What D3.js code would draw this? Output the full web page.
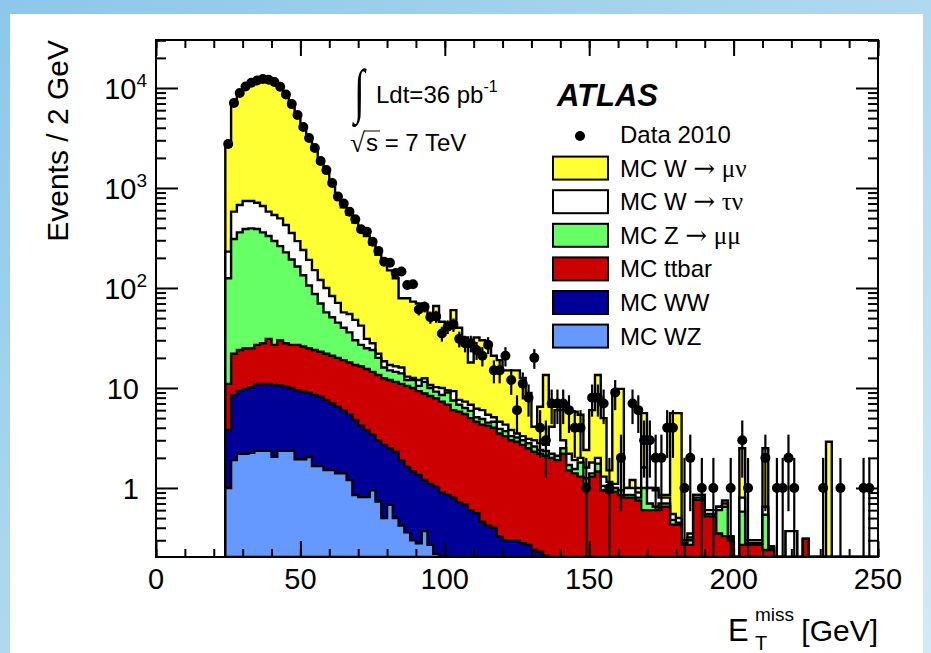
<!DOCTYPE html>
<html>
<head>
<meta charset="utf-8">
<script src="https://cdn.jsdelivr.net/npm/d3@7"></script>
<style>
  body { margin: 0; }
  text { font-family: "Liberation Sans", Arial, Helvetica, sans-serif; fill: #000; }
</style>
</head>
<body>
<svg id="chart" width="931" height="653"></svg>
<script>
// histogram binning (GeV)
var binStart = 24;
var binWidth = 2;

// data 2010, events per 2 GeV bin, starting at 24 GeV
var dataCounts = [
  2750, 7080, 8900, 10350, 11300, 11900, 12300, 12100, 11500, 10300,
  8600, 6900, 5370, 4070, 3160, 2510, 1860, 1510, 1120, 820,
  700, 580, 486, 386, 366, 290, 235, 183, 179, 141,
  146, 107, 109, 61, 65, 51, 52, 35, 41, 43,
  31, 28, 28, 24, 21, 27, 15, 15, 21, 12,
  6, 11, 8, 20, 4, 3, 7, 7, 7, 6,
  4, 4, 1, 8, 8, 7, 1, 9, 2, 0,
  7, 6, 3, 3, 2, 2, 4, 4, 0, 1,
  2, 0, 1, 0, 1, 0, 0, 1, 0, 3,
  1, 0, 0, 2, 0, 1, 1, 2, 1, 0,
  0, 0, 0, 1, 0, 0, 1, 0, 0, 0,
  1, 1, 0
];

// stacked MC, cumulative tops per bin (top of each coloured layer)
var stackWmunu = [
  2700, 6900, 8700, 10100, 11000, 11600, 12000, 11900, 11300, 10100,
  8400, 6700, 5200, 3950, 3050, 2420, 1800, 1450, 1080, 800,
  640, 540, 450, 370, 330, 270, 215, 180, 150, 125,
  79, 79, 73, 70, 66, 50, 66, 46, 45, 60,
  40, 32, 18, 32, 30, 28, 21, 19, 15, 15,
  15, 12.6, 8.9, 4.1, 6.5, 13.5, 6.5, 6.5, 6, 6,
  5.8, 5.4, 2.4, 6, 13.5, 5, 1.5, 9.5, 9.8, 1.0,
  1.2, 1.0, 5.6, 1.0, 1.0, 0.85, 0.85, 5.6, 5.6, 0.3,
  0.35, 0.85, 0.85, 0.6, 0.6, 0.65, 0.75, 0.33, 0, 2.5,
  0.3, 0.3, 0.3, 2.5, 0.26, 0, 0, 0.37, 0.37, 0,
  0.31, 0, 0, 0, 2.9, 0, 0, 0, 0, 0,
  0, 0, 0
];
var stackWtaunu = [
  231, 580, 676, 741, 741, 713, 660, 580, 537, 497,
  427, 355, 294, 240, 191, 151, 120, 100, 83, 71,
  57, 55, 48, 42, 31, 28, 22, 18.5, 17, 16.5,
  16, 13, 12.6, 12, 12.5, 10.7, 10.2, 10, 9.5, 9.3,
  7.6, 7.3, 6.8, 6.2, 6, 5.4, 5.1, 4.6, 4.3, 3.8,
  3.5, 3.3, 3.1, 3.0, 2.8, 2.7, 4.1, 6, 3.0, 2.2,
  1.9, 2.0, 1.6, 1.8, 2.0, 1.3, 1.15, 1.1, 2.0, 1.0,
  1.0, 0.9, 1.6, 1.0, 0.95, 0.8, 0.8, 0.55, 0.5, 0.3,
  0.32, 0.85, 0.85, 0.6, 0.6, 0.65, 0.7, 0.32, 0, 0.8,
  0.3, 0.3, 0.3, 0.65, 0.26, 0, 0, 0.37, 0.37, 0,
  0.31, 0, 0, 0, 0, 0, 0, 0, 0, 0,
  0, 0, 0
];
var stackZmumu = [
  125, 309, 360, 389, 395, 389, 360, 331, 295, 262,
  227, 193, 164, 134, 106, 87, 70, 57, 51, 45,
  40, 36, 30, 27, 25, 24, 20, 16, 15, 14.5,
  14, 12, 12, 10.5, 11.5, 10, 9.2, 8.5, 9, 7.5,
  6.8, 6.3, 5.9, 5.1, 4.9, 4.5, 4.6, 3.9, 3.7, 3.3,
  3.2, 3.0, 2.8, 2.6, 2.4, 2.35, 2.2, 2.1, 2.5, 1.7,
  1.55, 1.8, 1.25, 1.4, 1.75, 1.05, 1.0, 1.0, 0.95, 0.85,
  0.85, 0.8, 1.0, 0.7, 0.65, 0.7, 0.7, 0.48, 0.45, 0.28,
  0.3, 0.8, 0.8, 0.55, 0.55, 0.6, 0.65, 0.3, 0, 0.58,
  0.28, 0.28, 0.28, 0.54, 0.25, 0, 0, 0, 0, 0,
  0.31, 0, 0, 0, 0, 0, 0, 0, 0, 0,
  0, 0, 0
];
var stackTtbar = [
  11, 22, 24, 25, 25, 27, 28, 31, 27, 30,
  28, 27, 27, 26, 25, 24, 23, 22, 21, 20,
  19, 18, 17, 16.5, 15.5, 14.5, 13.5, 12.5, 12, 11.5,
  11, 10.5, 10, 9.3, 8.8, 8.3, 7.9, 7.3, 6.8, 6.0,
  5.8, 5.5, 5.0, 4.6, 4.3, 4.2, 4.0, 3.5, 3.3, 3.0,
  2.9, 2.7, 2.5, 2.3, 2.2, 2.1, 2.0, 1.9, 2.2, 1.5,
  1.4, 1.3, 1.1, 1.3, 1.46, 0.95, 0.9, 0.92, 0.85, 0.8,
  0.8, 0.75, 0.6, 0.6, 0.6, 0.65, 0.65, 0.43, 0.43, 0.27,
  0.27, 0.76, 0.76, 0.52, 0.52, 0.35, 0.33, 0.3, 0, 0.27,
  0.27, 0.27, 0.27, 0.24, 0.24, 0, 0, 0, 0, 0,
  0.31, 0, 0, 0, 0, 0, 0, 0, 0, 0,
  0, 0, 0
];
var stackWW = [
  3.8, 8.5, 9.5, 9.8, 10.2, 11, 11, 11, 10.7, 10.6,
  10.4, 10, 9.5, 9.2, 9.0, 8.5, 8.2, 7.6, 7.0, 6.5,
  6.0, 5.4, 4.8, 4.2, 3.8, 3.4, 3.0, 2.7, 2.5, 2.3,
  1.9, 1.63, 1.46, 1.35, 1.2, 1.1, 1.03, 0.9, 0.85, 0.8,
  0.72, 0.68, 0.6, 0.56, 0.46, 0.42, 0.4, 0.33, 0.3, 0.3,
  0.3, 0.28, 0.27, 0.24, 0.23, 0.21
];
var stackWZ = [
  1.0, 1.9, 2.2, 2.2, 2.25, 2.35, 2.35, 2.35, 2.05, 2.35,
  2.35, 2.35, 1.94, 1.94, 2.04, 1.66, 1.66, 1.51, 1.51, 1.4,
  1.4, 1.2, 0.85, 0.81, 0.81, 0.95, 0.73, 0.5, 0.68, 0.5,
  0.42, 0.36, 0.3, 0.28, 0.37, 0.27, 0.22, 0.2
];

var legendLabels = ['Data 2010', 'MC W \u2192 \u03bc\u03bd', 'MC W \u2192 \u03c4\u03bd',
  'MC Z \u2192 \u03bc\u03bc', 'MC ttbar', 'MC WW', 'MC WZ'];
var layerColors = ['#ffff33', '#ffffff', '#66ff66', '#cc0000', '#000099', '#6699ff'];
var xTickValues = [0, 50, 100, 150, 200, 250];
var yLabelExp = [0, 1, 2, 3, 4];

var frame = {left: 156, right: 878, top: 40, bottom: 557};
var yMin = 0.204, yMax = 30200;

var svg = d3.select('#chart');

// page background: blue gradient with white panel
var defs = svg.append('defs');
var grad = defs.append('linearGradient').attr('id', 'bg')
  .attr('x1', 0).attr('y1', 0).attr('x2', 1).attr('y2', 1);
grad.append('stop').attr('offset', '0%').attr('stop-color', '#8cc7e9');
grad.append('stop').attr('offset', '100%').attr('stop-color', '#d3eaf7');
svg.append('rect').attr('width', 931).attr('height', 653).attr('fill', 'url(#bg)');
svg.append('rect').attr('x', 10).attr('y', 14).attr('width', 913).attr('height', 660).attr('fill', '#fff');

defs.append('clipPath').attr('id', 'plotclip').append('rect')
  .attr('x', frame.left).attr('y', frame.top)
  .attr('width', frame.right - frame.left).attr('height', frame.bottom - frame.top);

var x = d3.scaleLinear().domain([0, 250]).range([frame.left, frame.right]);
var y = d3.scaleLog().domain([yMin, yMax]).range([frame.bottom, frame.top]);

function yc(v){
  return y(Math.max(v, yMin));
}

var plot = svg.append('g').attr('clip-path', 'url(#plotclip)');

// stacked histograms, drawn from the total down
var stacks = [stackWmunu, stackWtaunu, stackZmumu, stackTtbar, stackWW, stackWZ];

var area = d3.area()
  .curve(d3.curveStepAfter)
  .x(function(d){ return x(d.lo); })
  .y0(y(yMin))
  .y1(function(d){ return yc(d.v); });

stacks.forEach(function(vals, k){
  var pts = vals.map(function(v, i){
    return {lo: binStart + i*binWidth, v: v};
  });
  pts.push({lo: binStart + vals.length*binWidth, v: 0});
  plot.append('path')
    .datum(pts)
    .attr('d', area)
    .attr('fill', layerColors[k])
    .attr('stroke', '#000')
    .attr('stroke-width', 2.4)
    .attr('stroke-linejoin', 'miter');
});

// data points with sqrt(N) error bars
var dataPts = dataCounts.map(function(n, i){
  return {c: binStart + (i + 0.5)*binWidth, n: n};
}).filter(function(d){ return d.n > 0; });

plot.selectAll('line.err')
  .data(dataPts)
  .enter()
  .append('line')
  .attr('class', 'err')
  .attr('x1', function(d){ return x(d.c); })
  .attr('x2', function(d){ return x(d.c); })
  .attr('y1', function(d){ return yc(d.n + Math.sqrt(d.n)); })
  .attr('y2', function(d){ return yc(d.n - Math.sqrt(d.n)); })
  .attr('stroke', '#000')
  .attr('stroke-width', 2.2);

plot.selectAll('circle.pt')
  .data(dataPts)
  .enter()
  .append('circle')
  .attr('class', 'pt')
  .attr('cx', function(d){ return x(d.c); })
  .attr('cy', function(d){ return y(d.n); })
  .attr('r', 5)
  .attr('fill', '#000');

// axes: ticks inside the frame on all four sides
var xMinor = d3.range(0, 251, 10);
var yMinor = [];
for(var e = -1; e <= 4; e += 1){
  for(var m = 2; m <= 9; m += 1){
    var v = m*Math.pow(10, e);
    if(v > yMin && v < yMax) yMinor.push(v);
  }
}
var yMajor = yLabelExp.map(function(p){ return Math.pow(10, p); });

function addAxis(axis, transform){
  var g = svg.append('g').attr('transform', transform).call(axis);
  g.select('.domain').remove();
  g.selectAll('line').attr('stroke', '#000').attr('stroke-width', 2);
  g.selectAll('text').remove();
  return g;
}

addAxis(d3.axisBottom(x).tickValues(xMinor).tickSize(-8), 'translate(0,' + frame.bottom + ')');
addAxis(d3.axisBottom(x).tickValues(xTickValues).tickSize(-16), 'translate(0,' + frame.bottom + ')');
addAxis(d3.axisTop(x).tickValues(xMinor).tickSize(-8), 'translate(0,' + frame.top + ')');
addAxis(d3.axisTop(x).tickValues(xTickValues).tickSize(-16), 'translate(0,' + frame.top + ')');
addAxis(d3.axisLeft(y).tickValues(yMinor).tickSize(-10), 'translate(' + frame.left + ',0)');
addAxis(d3.axisLeft(y).tickValues(yMajor).tickSize(-22), 'translate(' + frame.left + ',0)');
addAxis(d3.axisRight(y).tickValues(yMinor).tickSize(-10), 'translate(' + frame.right + ',0)');
addAxis(d3.axisRight(y).tickValues(yMajor).tickSize(-22), 'translate(' + frame.right + ',0)');

svg.append('rect')
  .attr('x', frame.left).attr('y', frame.top)
  .attr('width', frame.right - frame.left).attr('height', frame.bottom - frame.top)
  .attr('fill', 'none').attr('stroke', '#000').attr('stroke-width', 2);

// tick labels
svg.selectAll('text.xl')
  .data(xTickValues)
  .enter()
  .append('text')
  .attr('class', 'xl')
  .attr('x', function(d){ return x(d); })
  .attr('y', 589)
  .attr('text-anchor', 'middle')
  .style('font-size', '29px')
  .text(function(d){ return d; });

yLabelExp.forEach(function(p){
  var t = svg.append('text')
    .attr('y', y(Math.pow(10, p)) + 11)
    .attr('text-anchor', 'end')
    .style('font-size', '29px');
  if(p === 0){
    t.attr('x', 139).text('1');
  } else if(p === 1){
    t.attr('x', 139).text('10');
  } else {
    t.attr('x', 147);
    t.append('tspan').text('10');
    t.append('tspan').attr('dy', -12).style('font-size', '19px').text(p);
  }
});

// axis titles
svg.append('text')
  .attr('transform', 'translate(68,40) rotate(-90)')
  .attr('text-anchor', 'end')
  .style('font-size', '30px')
  .text('Events / 2 GeV');

svg.append('text').attr('x', 728).attr('y', 641).style('font-size', '31px').text('E');
svg.append('text').attr('x', 755).attr('y', 621).style('font-size', '19px').text('miss');
svg.append('text').attr('x', 755).attr('y', 650).style('font-size', '20px').text('T');
svg.append('text').attr('x', 878).attr('y', 641).attr('text-anchor', 'end')
  .style('font-size', '30px').text('[GeV]');

// luminosity and energy labels
svg.append('text')
  .attr('transform', 'translate(354,111) scale(0.8,1.25)')
  .style('font-family', '"Liberation Serif", serif')
  .style('font-size', '48px')
  .text('\u222b');
var lum = svg.append('text').attr('x', 376).attr('y', 103).style('font-size', '24px');
lum.append('tspan').text('Ldt=36 pb');
lum.append('tspan').attr('dy', -11).style('font-size', '16px').text('-1');

svg.append('text').attr('x', 350).attr('y', 152)
  .style('font-family', '"Liberation Serif", serif').style('font-size', '27px').text('\u221a');
svg.append('line').attr('x1', 364).attr('x2', 380).attr('y1', 131).attr('y2', 131)
  .attr('stroke', '#000').attr('stroke-width', 1);
svg.append('text').attr('x', 366).attr('y', 151).style('font-size', '24px').text('s = 7 TeV');

svg.append('text')
  .attr('x', 557).attr('y', 106)
  .style('font-size', '31px')
  .style('font-weight', 'bold')
  .style('font-style', 'italic')
  .text('ATLAS');

// legend
var legend = svg.append('g');
legend.append('circle').attr('cx', 580).attr('cy', 136).attr('r', 5).attr('fill', '#000');

function legendText(sel, label){
  label.split('').forEach(function(ch){
    var t = sel.append('tspan').text(ch);
    if(ch === '\u2192'){
      t.style('font-family', '"DejaVu Serif", serif').style('font-size', '26px');
    } else if(/[\u03bc\u03bd\u03c4]/.test(ch)){
      t.style('font-family', '"Liberation Serif", "Times New Roman", serif').style('font-size', '25px');
    }
  });
}

legendLabels.forEach(function(label, i){
  var ty = 143 + i*33.6;
  if(i > 0){
    legend.append('rect')
      .attr('x', 553).attr('y', ty - 20)
      .attr('width', 55).attr('height', 23)
      .attr('fill', layerColors[i - 1])
      .attr('stroke', '#000').attr('stroke-width', 2);
  }
  var t = legend.append('text').attr('x', 620).attr('y', ty).style('font-size', '24px');
  legendText(t, label);
});
</script>
</body>
</html>
